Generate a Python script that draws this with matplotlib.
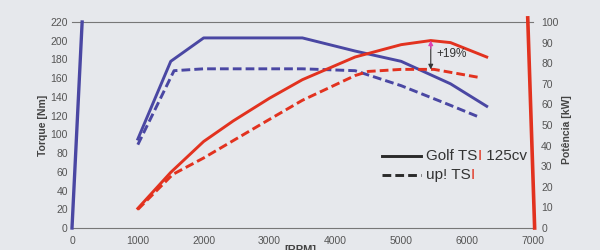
import numpy as np
import matplotlib.pyplot as plt
from matplotlib.lines import Line2D

plt.rcParams['font.family'] = ['Liberation Sans', 'DejaVu Sans']

BLUE = '#4a47a3'
RED = '#e2321f'
GRAY = '#555555'

# torque curves [Nm]
golf_torque_rpm = [1000, 1500, 2000, 3500, 4300, 5000, 5750, 6300]
golf_torque = [95, 178, 203, 203, 189, 178, 154, 130]
up_torque_rpm = [1000, 1550, 2000, 3500, 4300, 5000, 5750, 6200]
up_torque = [89, 168, 170, 170, 168, 152, 131, 118]

# power curves [kW]
golf_power_rpm = [1000, 1500, 2000, 2450, 3000, 3500, 4300, 5000, 5450, 5750, 6300]
golf_power = [9.5, 27, 42, 52, 63, 72, 83, 89, 91, 90, 83]
up_power_rpm = [1000, 1530, 2000, 2960, 3500, 4300, 4500, 5000, 5500, 6200]
up_power = [9, 26, 34, 52, 62, 74, 76, 77, 77, 73]

arrow_rpm = 5450
gain_label = '+19%'

fig = plt.figure(figsize=(6, 2.5), dpi=100)
fig.patch.set_facecolor('#e6e8ec')
ax = fig.add_axes([0.12, 0.088, 0.768, 0.824])
ax.set_facecolor('none')
ax2 = ax.twinx()

ax.set_xlim(0, 7000)
ax.set_ylim(0, 220)
ax2.set_ylim(0, 100)
ax.set_xticks(range(0, 7001, 1000))
ax.set_yticks(range(0, 221, 20))
ax2.set_yticks(range(0, 101, 10))

for a in (ax, ax2):
    for s in a.spines.values():
        s.set_visible(False)
    a.tick_params(length=0, labelsize=7.5, labelcolor=GRAY)
ax.tick_params(axis='y', pad=3)
ax.tick_params(axis='x', pad=6)
ax2.tick_params(axis='y', pad=6)

# thin top / bottom frame
for y in (0, 1):
    ax.add_line(Line2D([0, 1], [y, y], transform=ax.transAxes, color='#777777',
                       lw=0.8, clip_on=False))
# photographed (slightly skewed) colored axis lines
ax.add_line(Line2D([0, 0.022], [0, 1.0], transform=ax.transAxes, color=BLUE,
                   lw=2.4, clip_on=False))
ax.add_line(Line2D([1.004, 0.989], [0, 1.02], transform=ax.transAxes, color=RED,
                   lw=2.6, clip_on=False))

dash = (0, (3, 1.4))
ax.plot(golf_torque_rpm, golf_torque, color=BLUE, lw=2.1)
ax.plot(up_torque_rpm, up_torque, color=BLUE, lw=2.1, linestyle=dash)
ax2.plot(golf_power_rpm, golf_power, color=RED, lw=2.1)
ax2.plot(up_power_rpm, up_power, color=RED, lw=2.1, linestyle=dash)

# +19% arrow
p_low = np.interp(arrow_rpm, up_power_rpm, up_power)
p_high = np.interp(arrow_rpm, golf_power_rpm, golf_power)
ax2.annotate('', xy=(arrow_rpm, p_low), xytext=(arrow_rpm, p_high - 2),
             arrowprops=dict(arrowstyle='-|>', color='#333333', lw=0.8,
                             mutation_scale=7, shrinkA=0, shrinkB=0))
ax2.annotate('', xy=(arrow_rpm, p_high), xytext=(arrow_rpm, p_high - 4),
             arrowprops=dict(arrowstyle='-|>', color='#e040b0', lw=0.8,
                             mutation_scale=7, shrinkA=0, shrinkB=0))
ax2.text(arrow_rpm + 80, (p_low + p_high) / 2 + 0.5, gain_label, fontsize=8.5,
         color='#333333', va='center', ha='left')

# legend drawn by hand (red "I")
leg_items = [('-', 0.35, ['Golf TS', 'I', ' 125cv']),
             (dash, 0.257, ['up! TS', 'I', ''])]
for ls, y, parts in leg_items:
    ax.add_line(Line2D([0.672, 0.757], [y, y], transform=ax.transAxes,
                       color='#2a2a2a', lw=2.1, linestyle=ls))
    t = ax.text(0.768, y, parts[0], transform=ax.transAxes, fontsize=11,
                color='#333333', va='center', ha='left')
    t = ax.annotate(parts[1], xycoords=t, xy=(1, 0), va='bottom', ha='left',
                    fontsize=11, color=RED)
    if parts[2]:
        ax.annotate(parts[2], xycoords=t, xy=(1, 0), va='bottom', ha='left',
                    fontsize=11, color='#333333')

fig.text(0.072, 0.5, 'Torque [Nm]', rotation=90, fontsize=7.5, fontweight='bold',
         color='#444444', ha='center', va='center')
fig.text(0.945, 0.48, 'Potência [kW]', rotation=90, fontsize=7.5, fontweight='bold',
         color='#444444', ha='center', va='center')
fig.text(0.5, 0.02, '[RPM]', fontsize=8, fontweight='bold', color='#444444',
         ha='center', va='top')

fig.savefig('out.png', dpi=100, facecolor=fig.get_facecolor())
